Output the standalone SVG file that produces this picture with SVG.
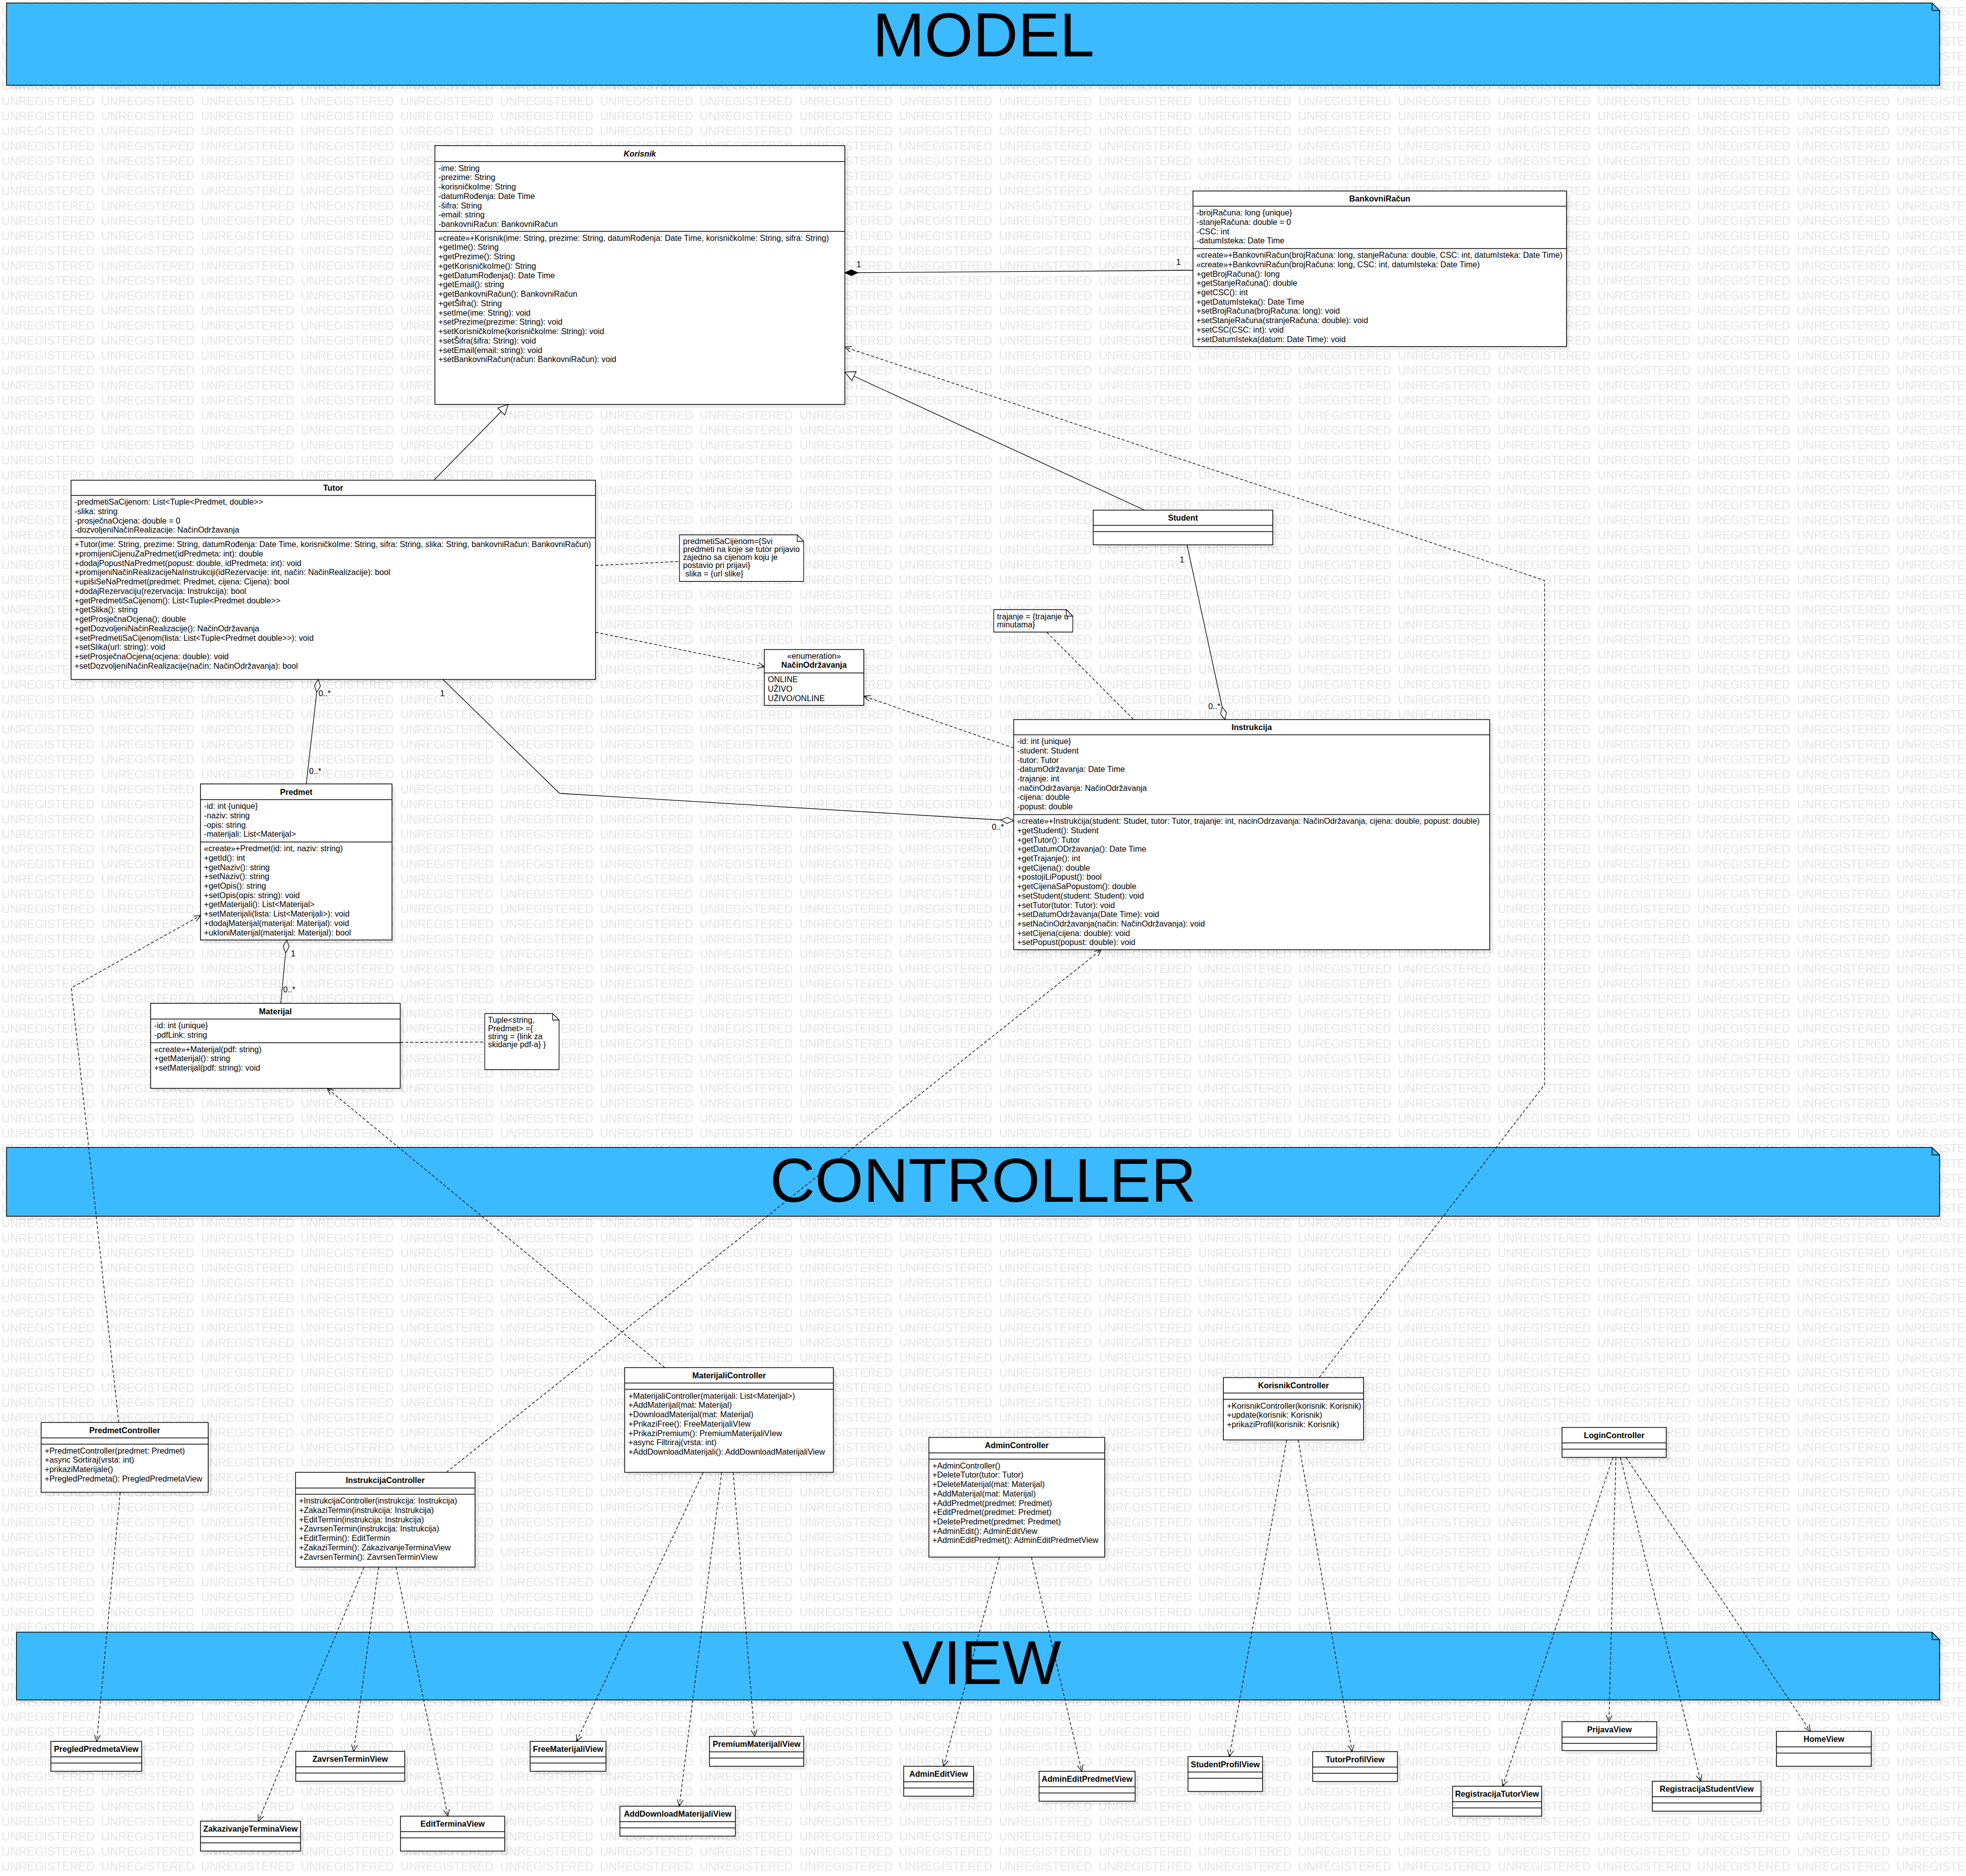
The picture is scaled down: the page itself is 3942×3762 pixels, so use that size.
<svg xmlns="http://www.w3.org/2000/svg" width="3942" height="3762" viewBox="0 0 3942 3762">
<defs>
<style>
text{font-family:"Liberation Sans",Arial,sans-serif;font-size:16.2px;fill:#000}
.n{font-weight:bold;text-anchor:middle}
.i{font-style:italic}
.c{text-anchor:middle}
.e{text-anchor:end}
.wm{font-size:23.5px;fill:#e4e4e4}
.bt{font-size:125px;text-anchor:middle}
.box{fill:#fff;stroke:#000;stroke-width:1.5}
.sh{fill:#000;fill-opacity:0.07}
.dv{stroke:#000;stroke-width:1.5;fill:none}
.ban{fill:#3cbaff;stroke:#000;stroke-width:1.5}
.note{fill:#fff;stroke:#000;stroke-width:1.3}
.ln{fill:none;stroke:#000;stroke-width:1.3}
.ds{stroke-dasharray:6 4}
</style>
<pattern id="wmp" patternUnits="userSpaceOnUse" x="3" y="-22" width="200" height="30"><text class="wm" x="0" y="23">UNREGISTERED</text></pattern>
<marker id="gen" markerUnits="userSpaceOnUse" markerWidth="24" markerHeight="24" refX="22" refY="12" orient="auto" overflow="visible"><path d="M2,2 L22,12 L2,22 Z" fill="#fff" stroke="#000" stroke-width="1.3" stroke-dasharray="none"/></marker>
<marker id="dep" markerUnits="userSpaceOnUse" markerWidth="16" markerHeight="14" refX="14" refY="7" orient="auto" overflow="visible"><path d="M1,1 L14,7 L1,13" fill="none" stroke="#000" stroke-width="1.3" stroke-dasharray="none"/></marker>
<marker id="agg" markerUnits="userSpaceOnUse" markerWidth="28" markerHeight="14" refX="26" refY="6" orient="auto" overflow="visible"><path d="M0,6 L13,0 L26,6 L13,12 Z" fill="#fff" stroke="#000" stroke-width="1.3" stroke-dasharray="none"/></marker>
<marker id="comp" markerUnits="userSpaceOnUse" markerWidth="28" markerHeight="14" refX="26" refY="6" orient="auto" overflow="visible"><path d="M0,6 L13,0 L26,6 L13,12 Z" fill="#000" stroke="#000" stroke-width="1.3" stroke-dasharray="none"/></marker>
</defs>
<rect width="3942" height="3762" fill="#fff"/>
<rect width="3942" height="3762" fill="url(#wmp)"/>

<g id="banner-model">
<rect class="sh" x="20" y="13" width="3876" height="165"/>
<path class="ban" d="M13,6 H3874 L3889,21 V171 H13 Z"/>
<path class="dv" d="M3874,6 V21 H3889"/>
<text class="bt" x="1972" y="113">MODEL</text>
</g>
<g id="banner-controller">
<rect class="sh" x="20" y="2308" width="3876" height="138"/>
<path class="ban" d="M13,2301 H3874 L3889,2316 V2439 H13 Z"/>
<path class="dv" d="M3874,2301 V2316 H3889"/>
<text class="bt" x="1971" y="2410">CONTROLLER</text>
</g>
<g id="banner-view">
<rect class="sh" x="40" y="3280" width="3856" height="136"/>
<path class="ban" d="M33,3273 H3874 L3889,3288 V3409 H33 Z"/>
<path class="dv" d="M3874,3273 V3288 H3889"/>
<text class="bt" x="1968" y="3377">VIEW</text>
</g>

<g id="Korisnik">
<rect class="sh" x="879" y="299" width="822" height="519"/>
<rect class="box" x="872" y="292" width="822" height="519"/>
<path class="dv" d="M872,324 H1694 M872,464 H1694"/>
<text class="n i" x="1283" y="313.5">Korisnik</text>
<text x="879" y="342.7">-ime: String<tspan x="879" dy="18.75">-prezime: String</tspan><tspan x="879" dy="18.75">-korisničkoIme: String</tspan><tspan x="879" dy="18.75">-datumRođenja: Date Time</tspan><tspan x="879" dy="18.75">-šifra: String</tspan><tspan x="879" dy="18.75">-email: string</tspan><tspan x="879" dy="18.75">-bankovniRačun: BankovniRačun</tspan></text>
<text x="879" y="482.7">«create»+Korisnik(ime: String, prezime: String, datumRođenja: Date Time, korisničkoIme: String, sifra: String)<tspan x="879" dy="18.75">+getIme(): String</tspan><tspan x="879" dy="18.75">+getPrezime(): String</tspan><tspan x="879" dy="18.75">+getKorisničkoIme(): String</tspan><tspan x="879" dy="18.75">+getDatumRođenja(): Date Time</tspan><tspan x="879" dy="18.75">+getEmail(): string</tspan><tspan x="879" dy="18.75">+getBankovniRačun(): BankovniRačun</tspan><tspan x="879" dy="18.75">+getŠifra(): String</tspan><tspan x="879" dy="18.75">+setIme(ime: String): void</tspan><tspan x="879" dy="18.75">+setPrezime(prezime: String): void</tspan><tspan x="879" dy="18.75">+setKorisničkoIme(korisničkoIme: String): void</tspan><tspan x="879" dy="18.75">+setŠifra(šifra: String): void</tspan><tspan x="879" dy="18.75">+setEmail(email: string): void</tspan><tspan x="879" dy="18.75">+setBankovniRačun(račun: BankovniRačun): void</tspan></text>
</g>

<g id="BankovniRacun">
<rect class="sh" x="2399" y="390" width="749" height="312"/>
<rect class="box" x="2392" y="383" width="749" height="312"/>
<path class="dv" d="M2392,413.5 H3141 M2392,498.5 H3141"/>
<text class="n" x="2766.5" y="404">BankovniRačun</text>
<text x="2399" y="432.2">-brojRačuna: long {unique}<tspan x="2399" dy="18.7">-stanjeRačuna: double = 0</tspan><tspan x="2399" dy="18.7">-CSC: int</tspan><tspan x="2399" dy="18.7">-datumIsteka: Date Time</tspan></text>
<text x="2399" y="517.2">«create»+BankovniRačun(brojRačuna: long, stanjeRačuna: double, CSC: int, datumIsteka: Date Time)<tspan x="2399" dy="18.7">«create»+BankovniRačun(brojRačuna: long, CSC: int, datumIsteka: Date Time)</tspan><tspan x="2399" dy="18.7">+getBrojRačuna(): long</tspan><tspan x="2399" dy="18.7">+getStanjeRačuna(): double</tspan><tspan x="2399" dy="18.7">+getCSC(): int</tspan><tspan x="2399" dy="18.7">+getDatumIsteka(): Date Time</tspan><tspan x="2399" dy="18.7">+setBrojRačuna(brojRačuna: long): void</tspan><tspan x="2399" dy="18.7">+setStanjeRačuna(stranjeRačuna: double): void</tspan><tspan x="2399" dy="18.7">+setCSC(CSC: int): void</tspan><tspan x="2399" dy="18.7">+setDatumIsteka(datum: Date Time): void</tspan></text>
</g>

<g id="Tutor">
<rect class="sh" x="149.5" y="970" width="1051.5" height="399.5"/>
<rect class="box" x="142.5" y="963" width="1051.5" height="399.5"/>
<path class="dv" d="M142.5,993.5 H1194 M142.5,1078.5 H1194"/>
<text class="n" x="668" y="984">Tutor</text>
<text x="149.5" y="1012.2">-predmetiSaCijenom: List&lt;Tuple&lt;Predmet, double&gt;&gt;<tspan x="149.5" dy="18.75">-slika: string</tspan><tspan x="149.5" dy="18.75">-prosječnaOcjena: double = 0</tspan><tspan x="149.5" dy="18.75">-dozvoljeniNačinRealizacije: NačinOdržavanja</tspan></text>
<text x="149.5" y="1097.2">+Tutor(ime: String, prezime: String, datumRođenja: Date Time, korisničkoIme: String, sifra: String, slika: String, bankovniRačun: BankovniRačun)<tspan x="149.5" dy="18.75">+promijeniCijenuZaPredmet(idPredmeta: int): double</tspan><tspan x="149.5" dy="18.75">+dodajPopustNaPredmet(popust: double, idPredmeta: int): void</tspan><tspan x="149.5" dy="18.75">+promijeniNačinRealizacijeNaInstrukciji(idRezervacije: int, način: NačinRealizacije): bool</tspan><tspan x="149.5" dy="18.75">+upišiSeNaPredmet(predmet: Predmet, cijena: Cijena): bool</tspan><tspan x="149.5" dy="18.75">+dodajRezervaciju(rezervacija: Instrukcija): bool</tspan><tspan x="149.5" dy="18.75">+getPredmetiSaCijenom(): List&lt;Tuple&lt;Predmet double&gt;&gt;</tspan><tspan x="149.5" dy="18.75">+getSlika(): string</tspan><tspan x="149.5" dy="18.75">+getProsječnaOcjena(): double</tspan><tspan x="149.5" dy="18.75">+getDozvoljeniNačinRealizacije(): NačinOdržavanja</tspan><tspan x="149.5" dy="18.75">+setPredmetiSaCijenom(lista: List&lt;Tuple&lt;Predmet double&gt;&gt;): void</tspan><tspan x="149.5" dy="18.75">+setSlika(url: string): void</tspan><tspan x="149.5" dy="18.75">+setProsječnaOcjena(ocjena: double): void</tspan><tspan x="149.5" dy="18.75">+setDozvoljeniNačinRealizacije(način: NačinOdržavanja): bool</tspan></text>
</g>

<g id="Student">
<rect class="sh" x="2199" y="1030" width="360" height="69.5"/>
<rect class="box" x="2192" y="1023" width="360" height="69.5"/>
<path class="dv" d="M2192,1053.5 H2552 M2192,1066 H2552"/>
<text class="n" x="2372" y="1044">Student</text>
</g>

<g id="NacinOdrzavanja">
<rect class="sh" x="1539.5" y="1309.5" width="199.5" height="112"/>
<rect class="box" x="1532.5" y="1302.5" width="199.5" height="112"/>
<path class="dv" d="M1532.5,1349.5 H1732"/>
<text class="c" x="1632.2" y="1321.4">«enumeration»</text>
<text class="n" x="1632.2" y="1339">NačinOdržavanja</text>
<text x="1539.5" y="1368.2">ONLINE<tspan x="1539.5" dy="18.75">UŽIVO</tspan><tspan x="1539.5" dy="18.75">UŽIVO/ONLINE</tspan></text>
</g>

<g id="Instrukcija">
<rect class="sh" x="2039.5" y="1450" width="954.5" height="461.5"/>
<rect class="box" x="2032.5" y="1443" width="954.5" height="461.5"/>
<path class="dv" d="M2032.5,1473.5 H2987 M2032.5,1633.5 H2987"/>
<text class="n" x="2509.7" y="1464">Instrukcija</text>
<text x="2039.5" y="1492.2">-id: int {unique}<tspan x="2039.5" dy="18.7">-student: Student</tspan><tspan x="2039.5" dy="18.7">-tutor: Tutor</tspan><tspan x="2039.5" dy="18.7">-datumOdržavanja: Date Time</tspan><tspan x="2039.5" dy="18.7">-trajanje: int</tspan><tspan x="2039.5" dy="18.7">-načinOdržavanja: NačinOdržavanja</tspan><tspan x="2039.5" dy="18.7">-cijena: double</tspan><tspan x="2039.5" dy="18.7">-popust: double</tspan></text>
<text x="2039.5" y="1652.2">«create»+Instrukcija(student: Studet, tutor: Tutor, trajanje: int, nacinOdrzavanja: NačinOdržavanja, cijena: double, popust: double)<tspan x="2039.5" dy="18.7">+getStudent(): Student</tspan><tspan x="2039.5" dy="18.7">+getTutor(): Tutor</tspan><tspan x="2039.5" dy="18.7">+getDatumODržavanja(): Date Time</tspan><tspan x="2039.5" dy="18.7">+getTrajanje(): int</tspan><tspan x="2039.5" dy="18.7">+getCijena(): double</tspan><tspan x="2039.5" dy="18.7">+postojiLiPopust(): bool</tspan><tspan x="2039.5" dy="18.7">+getCijenaSaPopustom(): double</tspan><tspan x="2039.5" dy="18.7">+setStudent(student: Student): void</tspan><tspan x="2039.5" dy="18.7">+setTutor(tutor: Tutor): void</tspan><tspan x="2039.5" dy="18.7">+setDatumOdržavanja(Date Time): void</tspan><tspan x="2039.5" dy="18.7">+setNačinOdržavanja(način: NačinOdržavanja): void</tspan><tspan x="2039.5" dy="18.7">+setCijena(cijena: double): void</tspan><tspan x="2039.5" dy="18.7">+setPopust(popust: double): void</tspan></text>
</g>

<g id="Predmet">
<rect class="sh" x="409" y="1579" width="384" height="313"/>
<rect class="box" x="402" y="1572" width="384" height="313"/>
<path class="dv" d="M402,1603.5 H786 M402,1688.5 H786"/>
<text class="n" x="594" y="1593.5">Predmet</text>
<text x="409" y="1622.2">-id: int {unique}<tspan x="409" dy="18.7">-naziv: string</tspan><tspan x="409" dy="18.7">-opis: string</tspan><tspan x="409" dy="18.7">-materijali: List&lt;Materijal&gt;</tspan></text>
<text x="409" y="1707.2">«create»+Predmet(id: int, naziv: string)<tspan x="409" dy="18.7">+getId(): int</tspan><tspan x="409" dy="18.7">+getNaziv(): string</tspan><tspan x="409" dy="18.7">+setNaziv(): string</tspan><tspan x="409" dy="18.7">+getOpis(): string</tspan><tspan x="409" dy="18.7">+setOpis(opis: string): void</tspan><tspan x="409" dy="18.7">+getMaterijali(): List&lt;Materijal&gt;</tspan><tspan x="409" dy="18.7">+setMaterijali(lista: List&lt;Materijali&gt;): void</tspan><tspan x="409" dy="18.7">+dodajMaterijal(materijal: Materijal): void</tspan><tspan x="409" dy="18.7">+ukloniMaterijal(materijal: Materijal): bool</tspan></text>
</g>

<g id="Materijal">
<rect class="sh" x="309" y="2019" width="500.5" height="170.5"/>
<rect class="box" x="302" y="2012" width="500.5" height="170.5"/>
<path class="dv" d="M302,2043.5 H802.5 M302,2091 H802.5"/>
<text class="n" x="552.2" y="2033.5">Materijal</text>
<text x="309" y="2062.2">-id: int {unique}<tspan x="309" dy="18.7">-pdfLink: string</tspan></text>
<text x="309" y="2109.7">«create»+Materijal(pdf: string)<tspan x="309" dy="18.7">+getMaterijal(): string</tspan><tspan x="309" dy="18.7">+setMaterijal(pdf: string): void</tspan></text>
</g>

<g id="note-predmeti">
<path class="note" d="M1362.5,1072.5 H1598.5 L1611.5,1085.5 V1166 H1362.5 Z"/>
<path class="ln" d="M1598.5,1072.5 V1085.5 H1611.5"/>
<text x="1369.5" y="1090.7">predmetiSaCijenom={Svi<tspan x="1369.5" dy="16.25">predmeti na koje se tutor prijavio</tspan><tspan x="1369.5" dy="16.25">zajedno sa cijenom koju je</tspan><tspan x="1369.5" dy="16.25">postavio pri prijavi}</tspan><tspan x="1374" dy="16.25">slika = {url slike}</tspan></text>
</g>

<g id="note-trajanje">
<path class="note" d="M1992.5,1222.5 H2138 L2151,1235.5 V1267.5 H1992.5 Z"/>
<text x="1999" y="1241.7">trajanje = {trajanje u<tspan x="1999" dy="16.25">minutama}</tspan></text>
<path class="note" d="M2138,1222.5 L2151,1235.5 H2138 Z"/>
</g>

<g id="note-tuple">
<path class="note" d="M972,2032.5 H1108 L1121,2045.5 V2145 H972 Z"/>
<path class="ln" d="M1108,2032.5 V2045.5 H1121"/>
<text x="978.5" y="2051.4">Tuple&lt;string,<tspan x="978.5" dy="16.25">Predmet&gt; ={</tspan><tspan x="978.5" dy="16.25">string = {link za</tspan><tspan x="978.5" dy="16.25">skidanje pdf-a} }</tspan></text>
</g>

<g id="PredmetController">
<rect class="sh" x="89.5" y="2859.5" width="335" height="140"/>
<rect class="box" x="82.5" y="2852.5" width="335" height="140"/>
<path class="dv" d="M82.5,2883.5 H417.5 M82.5,2896 H417.5"/>
<text class="n" x="250" y="2873.7">PredmetController</text>
<text x="89.5" y="2914.7">+PredmetController(predmet: Predmet)<tspan x="89.5" dy="18.75">+async Sortiraj(vrsta: int)</tspan><tspan x="89.5" dy="18.75">+prikaziMaterijale()</tspan><tspan x="89.5" dy="18.75">+PregledPredmeta(): PregledPredmetaView</tspan></text>
</g>

<g id="InstrukcijaController">
<rect class="sh" x="599.5" y="2959.5" width="360" height="190"/>
<rect class="box" x="592.5" y="2952.5" width="360" height="190"/>
<path class="dv" d="M592.5,2984 H952.5 M592.5,2996.5 H952.5"/>
<text class="n" x="772.5" y="2974">InstrukcijaController</text>
<text x="599.5" y="3015.2">+InstrukcijaController(instrukcija: Instrukcija)<tspan x="599.5" dy="18.75">+ZakaziTermin(instrukcija: Instrukcija)</tspan><tspan x="599.5" dy="18.75">+EditTermin(instrukcija: Instrukcija)</tspan><tspan x="599.5" dy="18.75">+ZavrsenTermin(instrukcija: Instrukcija)</tspan><tspan x="599.5" dy="18.75">+EditTermin(): EditTermin</tspan><tspan x="599.5" dy="18.75">+ZakaziTermin(): ZakazivanjeTerminaView</tspan><tspan x="599.5" dy="18.75">+ZavrsenTermin(): ZavrsenTerminView</tspan></text>
</g>

<g id="MaterijaliController">
<rect class="sh" x="1259.5" y="2749.5" width="418.5" height="210"/>
<rect class="box" x="1252.5" y="2742.5" width="418.5" height="210"/>
<path class="dv" d="M1252.5,2773.5 H1671 M1252.5,2786 H1671"/>
<text class="n" x="1461.7" y="2763.7">MaterijaliController</text>
<text x="1260" y="2804.7">+MaterijaliController(materijali: List&lt;Materijal&gt;)<tspan x="1260" dy="18.75">+AddMaterijal(mat: Materijal)</tspan><tspan x="1260" dy="18.75">+DownloadMaterijal(mat: Materijal)</tspan><tspan x="1260" dy="18.75">+PrikaziFree(): FreeMaterijaliVIew</tspan><tspan x="1260" dy="18.75">+PrikaziPremium(): PremiumMaterijaliVIew</tspan><tspan x="1260" dy="18.75">+async Filtriraj(vrsta: int)</tspan><tspan x="1260" dy="18.75">+AddDownloadMaterijali(): AddDownloadMaterijaliView</tspan></text>
</g>

<g id="AdminController">
<rect class="sh" x="1869.5" y="2889.5" width="352.5" height="240"/>
<rect class="box" x="1862.5" y="2882.5" width="352.5" height="240"/>
<path class="dv" d="M1862.5,2913.5 H2215 M1862.5,2926 H2215"/>
<text class="n" x="2038.7" y="2903.7">AdminController</text>
<text x="1869.5" y="2944.7">+AdminController()<tspan x="1869.5" dy="18.7">+DeleteTutor(tutor: Tutor)</tspan><tspan x="1869.5" dy="18.7">+DeleteMaterijal(mat: Materijal)</tspan><tspan x="1869.5" dy="18.7">+AddMaterijal(mat: Materijal)</tspan><tspan x="1869.5" dy="18.7">+AddPredmet(predmet: Predmet)</tspan><tspan x="1869.5" dy="18.7">+EditPredmet(predmet: Predmet)</tspan><tspan x="1869.5" dy="18.7">+DeletePredmet(predmet: Predmet)</tspan><tspan x="1869.5" dy="18.7">+AdminEdit(): AdminEditView</tspan><tspan x="1869.5" dy="18.7">+AdminEditPredmet(): AdminEditPredmetView</tspan></text>
</g>

<g id="KorisnikController">
<rect class="sh" x="2460" y="2769.5" width="281" height="125"/>
<rect class="box" x="2453" y="2762.5" width="281" height="125"/>
<path class="dv" d="M2453,2793.5 H2734 M2453,2806 H2734"/>
<text class="n" x="2593.5" y="2783.7">KorisnikController</text>
<text x="2460" y="2824.7">+KorisnikController(korisnik: Korisnik)<tspan x="2460" dy="18.75">+update(korisnik: Korisnik)</tspan><tspan x="2460" dy="18.75">+prikaziProfil(korisnik: Korisnik)</tspan></text>
</g>

<g id="LoginController">
<rect class="sh" x="3139" y="2869.5" width="209" height="60"/>
<rect class="box" x="3132" y="2862.5" width="209" height="60"/>
<path class="dv" d="M3132,2893.5 H3341 M3132,2906 H3341"/>
<text class="n" x="3236.5" y="2883.7">LoginController</text>
</g>

<g id="PregledPredmetaView"><rect class="sh" x="109" y="3499" width="182" height="60"/><rect class="box" x="102" y="3492" width="182" height="60"/><path class="dv" d="M102,3523 H284 M102,3535.5 H284"/><text class="n" x="193" y="3513.2">PregledPredmetaView</text></g>
<g id="ZavrsenTerminView"><rect class="sh" x="600" y="3519" width="218.5" height="60"/><rect class="box" x="593" y="3512" width="218.5" height="60"/><path class="dv" d="M593,3543 H811.5 M593,3555.5 H811.5"/><text class="n" x="702.2" y="3533.2">ZavrsenTerminView</text></g>
<g id="FreeMaterijaliView"><rect class="sh" x="1070" y="3499" width="152" height="60"/><rect class="box" x="1063" y="3492" width="152" height="60"/><path class="dv" d="M1063,3523 H1215 M1063,3535.5 H1215"/><text class="n" x="1139" y="3513.2">FreeMaterijaliView</text></g>
<g id="PremiumMaterijaliView"><rect class="sh" x="1429.5" y="3489" width="189" height="60"/><rect class="box" x="1422.5" y="3482" width="189" height="60"/><path class="dv" d="M1422.5,3513 H1611.5 M1422.5,3525.5 H1611.5"/><text class="n" x="1517" y="3503.2">PremiumMaterijaliView</text></g>
<g id="AdminEditView"><rect class="sh" x="1819" y="3549" width="140" height="60"/><rect class="box" x="1812" y="3542" width="140" height="60"/><path class="dv" d="M1812,3573 H1952 M1812,3585.5 H1952"/><text class="n" x="1882" y="3563.2">AdminEditView</text></g>
<g id="ZakazivanjeTerminaView"><rect class="sh" x="409" y="3659" width="200.5" height="60"/><rect class="box" x="402" y="3652" width="200.5" height="60"/><path class="dv" d="M402,3683 H602.5 M402,3695.5 H602.5"/><text class="n" x="502.2" y="3673.2">ZakazivanjeTerminaView</text></g>
<g id="EditTerminaView"><rect class="sh" x="810" y="3649" width="209" height="70"/><rect class="box" x="803" y="3642" width="209" height="70"/><path class="dv" d="M803,3673 H1012 M803,3685.5 H1012"/><text class="n" x="907.5" y="3663.2">EditTerminaView</text></g>
<g id="AddDownloadMaterijaliView"><rect class="sh" x="1250" y="3629" width="231.5" height="60"/><rect class="box" x="1243" y="3622" width="231.5" height="60"/><path class="dv" d="M1243,3653 H1474.5 M1243,3665.5 H1474.5"/><text class="n" x="1358.7" y="3643.2">AddDownloadMaterijaliView</text></g>
<g id="AdminEditPredmetView"><rect class="sh" x="2090.5" y="3559" width="192.5" height="60"/><rect class="box" x="2083.5" y="3552" width="192.5" height="60"/><path class="dv" d="M2083.5,3583 H2276 M2083.5,3595.5 H2276"/><text class="n" x="2179.7" y="3573.2">AdminEditPredmetView</text></g>
<g id="StudentProfilView"><rect class="sh" x="2389" y="3529.5" width="149.5" height="70"/><rect class="box" x="2382" y="3522.5" width="149.5" height="70"/><path class="dv" d="M2382,3553.5 H2531.5 M2382,3566 H2531.5"/><text class="n" x="2456.7" y="3543.7">StudentProfilView</text></g>
<g id="TutorProfilView"><rect class="sh" x="2639" y="3519.5" width="170" height="60"/><rect class="box" x="2632" y="3512.5" width="170" height="60"/><path class="dv" d="M2632,3543.5 H2802 M2632,3556 H2802"/><text class="n" x="2717" y="3533.7">TutorProfilView</text></g>
<g id="PrijavaView"><rect class="sh" x="3139" y="3459.5" width="190" height="58"/><rect class="box" x="3132" y="3452.5" width="190" height="58"/><path class="dv" d="M3132,3483.5 H3322 M3132,3496 H3322"/><text class="n" x="3227" y="3473.7">PrijavaView</text></g>
<g id="HomeView"><rect class="sh" x="3569" y="3479" width="190" height="70"/><rect class="box" x="3562" y="3472" width="190" height="70"/><path class="dv" d="M3562,3503 H3752 M3562,3515.5 H3752"/><text class="n" x="3657" y="3493.2">HomeView</text></g>
<g id="RegistracijaTutorView"><rect class="sh" x="2919.5" y="3589" width="178.5" height="60"/><rect class="box" x="2912.5" y="3582" width="178.5" height="60"/><path class="dv" d="M2912.5,3613 H3091 M2912.5,3625.5 H3091"/><text class="n" x="3001.7" y="3603.2">RegistracijaTutorView</text></g>
<g id="RegistracijaStudentView"><rect class="sh" x="3320" y="3579" width="218" height="60"/><rect class="box" x="3313" y="3572" width="218" height="60"/><path class="dv" d="M3313,3603 H3531 M3313,3615.5 H3531"/><text class="n" x="3422" y="3593.2">RegistracijaStudentView</text></g>

<g id="connectors">
<path class="ln" d="M870,963 L1019,811" marker-end="url(#gen)"/>
<path class="ln" d="M2295,1023 L1694,746" marker-end="url(#gen)"/>
<path class="ln" d="M2392,542 L1694,547" marker-end="url(#comp)"/>
<path class="ln" d="M614,1572 L638,1362.5" marker-end="url(#agg)"/>
<path class="ln" d="M888,1362.5 L1122,1591 L2032.5,1646" marker-end="url(#agg)"/>
<path class="ln" d="M2380,1092.5 L2456,1443" marker-end="url(#agg)"/>
<path class="ln" d="M563,2012 L575,1885" marker-end="url(#agg)"/>
<path class="ln ds" d="M1194,1134 L1362.5,1126"/>
<path class="ln ds" d="M1194,1268 L1532.5,1337" marker-end="url(#dep)"/>
<path class="ln ds" d="M2032.5,1500 L1732,1396" marker-end="url(#dep)"/>
<path class="ln ds" d="M2099,1268 L2273,1443"/>
<path class="ln ds" d="M802.5,2090.5 L972,2089.5"/>
<path class="ln ds" d="M1333,2742.5 L656,2182.5" marker-end="url(#dep)"/>
<path class="ln ds" d="M238,2852.5 L143,1981 L402,1836" marker-end="url(#dep)"/>
<path class="ln ds" d="M895,2952.5 L2208,1904.5" marker-end="url(#dep)"/>
<path class="ln ds" d="M2645,2762.5 L3097,2175 L3097,1164 L1694,696" marker-end="url(#dep)"/>
<path class="ln ds" d="M241,2992.5 L194,3492" marker-end="url(#dep)"/>
<path class="ln ds" d="M730,3142.5 L518,3652" marker-end="url(#dep)"/>
<path class="ln ds" d="M759,3142.5 L709,3512" marker-end="url(#dep)"/>
<path class="ln ds" d="M794,3142.5 L898,3642" marker-end="url(#dep)"/>
<path class="ln ds" d="M1410,2952.5 L1156,3492" marker-end="url(#dep)"/>
<path class="ln ds" d="M1447,2952.5 L1362,3622" marker-end="url(#dep)"/>
<path class="ln ds" d="M1470,2952.5 L1513,3482" marker-end="url(#dep)"/>
<path class="ln ds" d="M2004,3122.5 L1892,3542" marker-end="url(#dep)"/>
<path class="ln ds" d="M2068,3122.5 L2169,3552" marker-end="url(#dep)"/>
<path class="ln ds" d="M2580,2887.5 L2465,3522.5" marker-end="url(#dep)"/>
<path class="ln ds" d="M2603,2887.5 L2711,3512.5" marker-end="url(#dep)"/>
<path class="ln ds" d="M3234,2922.5 L3013,3582" marker-end="url(#dep)"/>
<path class="ln ds" d="M3240,2922.5 L3226,3452.5" marker-end="url(#dep)"/>
<path class="ln ds" d="M3249,2922.5 L3410,3572" marker-end="url(#dep)"/>
<path class="ln ds" d="M3260,2922.5 L3630,3472" marker-end="url(#dep)"/>
<text class="c" x="1722" y="536">1</text>
<text class="c" x="2363" y="531">1</text>
<text class="c" x="651" y="1396">0..*</text>
<text class="c" x="632" y="1552">0..*</text>
<text class="c" x="887" y="1396">1</text>
<text class="c" x="2001" y="1664">0..*</text>
<text class="c" x="2370" y="1128">1</text>
<text class="e" x="2447" y="1422">0..*</text>
<text class="c" x="588" y="1917.5">1</text>
<text class="c" x="580" y="1990">0..*</text>
</g>
</svg>
